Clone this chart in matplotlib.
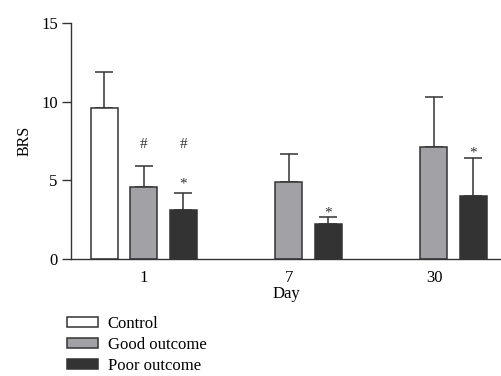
import numpy as np
import matplotlib.pyplot as plt
from matplotlib.patches import Patch

plt.rcParams['font.family'] = ['Liberation Serif', 'DejaVu Serif']

days = ['1', '7', '30']
control = [9.6, np.nan, np.nan]
control_sd = [2.3, np.nan, np.nan]
good = [4.6, 4.9, 7.1]
good_sd = [1.3, 1.8, 3.2]
poor = [3.1, 2.2, 4.0]
poor_sd = [1.1, 0.5, 2.4]

# significance marks: (group, series, label, y)
marks = [(0, 'good', '#', 7.3), (0, 'poor', '#', 7.3), (0, 'poor', '*', 4.75),
         (1, 'poor', '*', 2.95), (2, 'poor', '*', 6.75)]

fig = plt.figure(figsize=(5.02, 3.76), dpi=100)
ax = fig.add_axes([0.1414, 0.311, 0.8586, 0.6278])

x = np.arange(len(days))
off = 0.272
w = 0.186
edge = '#333333'
series = {
    'control': (x - off, control, control_sd, 'white'),
    'good': (x, good, good_sd, '#a2a2a6'),
    'poor': (x + off, poor, poor_sd, '#333333'),
}
for key, (pos, vals, sd, col) in series.items():
    ax.bar(pos, vals, w, color=col, edgecolor=edge, linewidth=1.1, zorder=2)
    ax.errorbar(pos, vals, yerr=[np.zeros(len(sd)), sd], fmt='none',
                ecolor=edge, elinewidth=1.1, capsize=6.5, capthick=1.1, zorder=1)

for g, s, lab, yv in marks:
    pos = series[s][0][g]
    ax.text(pos, yv, lab, ha='center', va='center', fontsize=11, color='#333333')

ax.set_xlim(-0.503, 2.469)
ax.set_ylim(0, 15)
ax.set_yticks([0, 5, 10, 15])
ax.set_xticks(x)
ax.set_xticklabels(days)
ax.tick_params(axis='x', length=0, labelsize=12, pad=8)
ax.tick_params(axis='y', length=6.5, width=1, labelsize=12, color='#333333', pad=3)
for sp in ['top', 'right']:
    ax.spines[sp].set_visible(False)
for sp in ['left', 'bottom']:
    ax.spines[sp].set_color('#333333')
    ax.spines[sp].set_linewidth(1)
ax.set_ylabel('BRS', fontsize=11.5, labelpad=6)
ax.set_xlabel('Day', fontsize=12, labelpad=0)

handles = [Patch(facecolor='white', edgecolor=edge, linewidth=1.1),
           Patch(facecolor='#a2a2a6', edgecolor=edge, linewidth=1.1),
           Patch(facecolor='#333333', edgecolor=edge, linewidth=1.1)]
fig.legend(handles, ['Control', 'Good outcome', 'Poor outcome'],
           loc='upper left', bbox_to_anchor=(0.133, 0.16), frameon=False,
           fontsize=12, handlelength=1.85, handleheight=0.62,
           handletextpad=0.6, labelspacing=0.3, borderpad=0, borderaxespad=0)

fig.savefig('out.png', dpi=100)
